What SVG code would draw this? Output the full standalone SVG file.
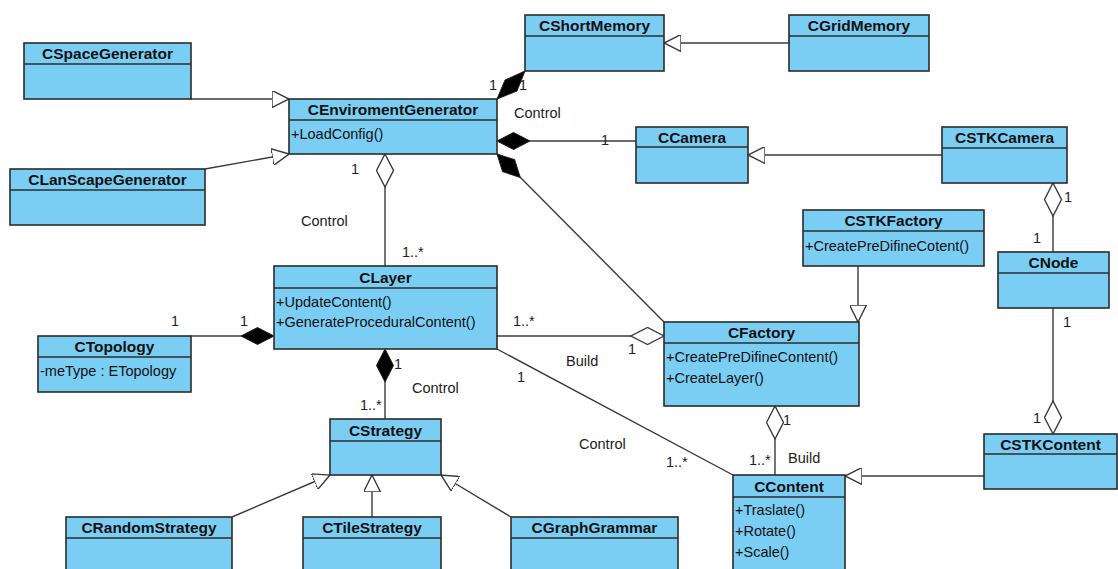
<svg xmlns="http://www.w3.org/2000/svg" width="1118" height="569" viewBox="0 0 1118 569">
  <style>
    .box { fill: #7bcef3; stroke: #2b2b2b; stroke-width: 1.6; }
    .div { stroke: #2b2b2b; stroke-width: 1.6; }
    .title { font-family: "Liberation Sans", Arial, sans-serif; font-weight: bold; font-size: 15.5px; fill: #111; text-anchor: middle; }
    .op { font-family: "Liberation Sans", Arial, sans-serif; font-size: 14.5px; fill: #111; }
    .lbl { font-family: "Liberation Sans", Arial, sans-serif; font-size: 14.5px; fill: #222; }
    .edge { fill: none; stroke: #3a3a3a; stroke-width: 1.4; }
    .gen { marker-end: url(#tri); }
    .comp { marker-start: url(#dfill); }
    .aggr { marker-start: url(#dhollow); }
  </style>
  <defs>
    <!-- hollow triangle for generalization -->
    <marker id="tri" viewBox="0 0 17 17" refX="17" refY="8.5" markerWidth="17" markerHeight="17" markerUnits="userSpaceOnUse" orient="auto">
      <path d="M0,0 L17,8.5 L0,17 Z" fill="#fff" stroke="#3a3a3a" stroke-width="1.4"/>
    </marker>
    <!-- filled diamond for composition -->
    <marker id="dfill" viewBox="-1 -1 35 19" refX="0" refY="8.5" markerWidth="35" markerHeight="19" markerUnits="userSpaceOnUse" orient="auto">
      <path d="M0,8.5 L16.5,0 L33,8.5 L16.5,17 Z" fill="#000" stroke="#222" stroke-width="1"/>
    </marker>
    <!-- hollow diamond for aggregation -->
    <marker id="dhollow" viewBox="-1 -1 35 19" refX="0" refY="8.5" markerWidth="35" markerHeight="19" markerUnits="userSpaceOnUse" orient="auto">
      <path d="M0,8.5 L16.5,0 L33,8.5 L16.5,17 Z" fill="#fff" stroke="#3a3a3a" stroke-width="1.4"/>
    </marker>
  </defs>

  <rect width="1118" height="569" fill="#fff"/>

  <g id="connectors">
    <!-- generalizations -->
    <path class="edge gen" d="M191,99 L289,99"/>
    <path class="edge gen" d="M205,169 L289,154"/>
    <path class="edge gen" d="M789,43 L664,43"/>
    <path class="edge gen" d="M942,155 L748,155"/>
    <path class="edge gen" d="M858,266 L858,322"/>
    <path class="edge gen" d="M984,476 L845,476"/>
    <path class="edge gen" d="M232,517 L330,475"/>
    <path class="edge gen" d="M372,517 L372,475"/>
    <path class="edge gen" d="M511,517 L441,475"/>
    <!-- compositions -->
    <path class="edge" d="M497,99 L525,71"/>
    <polygon points="497,99 505,80 525,71 517,91" fill="#000" stroke="#222" stroke-width="1"/>
    <path class="edge comp" d="M497,141 L636,141"/>
    <path class="edge comp" d="M497,154 L664,322"/>
    <path class="edge comp" d="M274,336 L191,336"/>
    <path class="edge comp" d="M385,349 L385,419"/>
    <!-- aggregations -->
    <path class="edge aggr" d="M385,154 L385,266"/>
    <path class="edge aggr" d="M664,336 L497,336"/>
    <path class="edge aggr" d="M1053,183 L1053,252"/>
    <path class="edge aggr" d="M775,406 L775,475"/>
    <path class="edge aggr" d="M1053,434 L1053,308"/>
    <!-- plain association -->
    <path class="edge" d="M497,349 L733,475"/>

    <!-- role names and multiplicities -->
    <text class="lbl" x="301" y="226">Control</text>
    <text class="lbl" x="351" y="174">1</text>
    <text class="lbl" x="402" y="257">1..*</text>
    <text class="lbl" x="489" y="90">1</text>
    <text class="lbl" x="519" y="90">1</text>
    <text class="lbl" x="514" y="118">Control</text>
    <text class="lbl" x="601" y="145">1</text>
    <text class="lbl" x="1064" y="202">1</text>
    <text class="lbl" x="1033" y="243">1</text>
    <text class="lbl" x="171" y="326">1</text>
    <text class="lbl" x="240" y="326">1</text>
    <text class="lbl" x="513" y="326">1..*</text>
    <text class="lbl" x="628" y="354">1</text>
    <text class="lbl" x="566" y="366">Build</text>
    <text class="lbl" x="517" y="382">1</text>
    <text class="lbl" x="394" y="369">1</text>
    <text class="lbl" x="412" y="393">Control</text>
    <text class="lbl" x="360" y="410">1..*</text>
    <text class="lbl" x="579" y="449">Control</text>
    <text class="lbl" x="666" y="467">1..*</text>
    <text class="lbl" x="783" y="425">1</text>
    <text class="lbl" x="749" y="465">1..*</text>
    <text class="lbl" x="788" y="463">Build</text>
    <text class="lbl" x="1063" y="327">1</text>
    <text class="lbl" x="1033" y="423">1</text>
  </g>

  <g id="CSpaceGenerator">
    <rect class="box" x="24" y="43" width="167" height="56"/>
    <line class="div" x1="24" y1="64" x2="191" y2="64"/>
    <text class="title" x="107.5" y="59">CSpaceGenerator</text>
  </g>

  <g id="CLanScapeGenerator">
    <rect class="box" x="10" y="169" width="195" height="56"/>
    <line class="div" x1="10" y1="190" x2="205" y2="190"/>
    <text class="title" x="107.5" y="185">CLanScapeGenerator</text>
  </g>

  <g id="CEnviromentGenerator">
    <rect class="box" x="289" y="99" width="208" height="55"/>
    <line class="div" x1="289" y1="120" x2="497" y2="120"/>
    <text class="title" x="393" y="115">CEnviromentGenerator</text>
    <text class="op" x="291" y="139">+LoadConfig()</text>
  </g>

  <g id="CShortMemory">
    <rect class="box" x="525" y="15" width="139" height="56"/>
    <line class="div" x1="525" y1="36" x2="664" y2="36"/>
    <text class="title" x="594.5" y="31">CShortMemory</text>
  </g>

  <g id="CGridMemory">
    <rect class="box" x="789" y="15" width="140" height="56"/>
    <line class="div" x1="789" y1="36" x2="929" y2="36"/>
    <text class="title" x="859" y="31">CGridMemory</text>
  </g>

  <g id="CCamera">
    <rect class="box" x="636" y="127" width="112" height="56"/>
    <line class="div" x1="636" y1="147" x2="748" y2="147"/>
    <text class="title" x="692" y="143">CCamera</text>
  </g>

  <g id="CSTKCamera">
    <rect class="box" x="942" y="127" width="125" height="56"/>
    <line class="div" x1="942" y1="148" x2="1067" y2="148"/>
    <text class="title" x="1004.5" y="143">CSTKCamera</text>
  </g>

  <g id="CSTKFactory">
    <rect class="box" x="803" y="210" width="181" height="56"/>
    <line class="div" x1="803" y1="231" x2="984" y2="231"/>
    <text class="title" x="893.5" y="226">CSTKFactory</text>
    <text class="op" x="805" y="251">+CreatePreDifineCotent()</text>
  </g>

  <g id="CNode">
    <rect class="box" x="998" y="252" width="111" height="56"/>
    <line class="div" x1="998" y1="273" x2="1109" y2="273"/>
    <text class="title" x="1053.5" y="268">CNode</text>
  </g>

  <g id="CLayer">
    <rect class="box" x="274" y="266" width="223" height="83"/>
    <line class="div" x1="274" y1="288" x2="497" y2="288"/>
    <text class="title" x="385.5" y="283">CLayer</text>
    <text class="op" x="276" y="307">+UpdateContent()</text>
    <text class="op" x="276" y="327">+GenerateProceduralContent()</text>
  </g>

  <g id="CTopology">
    <rect class="box" x="38" y="336" width="153" height="56"/>
    <line class="div" x1="38" y1="357" x2="191" y2="357"/>
    <text class="title" x="114.5" y="352">CTopology</text>
    <text class="op" x="40" y="376">-meType : ETopology</text>
  </g>

  <g id="CFactory">
    <rect class="box" x="664" y="322" width="195" height="84"/>
    <line class="div" x1="664" y1="343" x2="859" y2="343"/>
    <text class="title" x="761.5" y="338">CFactory</text>
    <text class="op" x="666" y="362">+CreatePreDifineContent()</text>
    <text class="op" x="666" y="383">+CreateLayer()</text>
  </g>

  <g id="CStrategy">
    <rect class="box" x="330" y="419" width="111" height="56"/>
    <line class="div" x1="330" y1="441" x2="441" y2="441"/>
    <text class="title" x="385.5" y="436">CStrategy</text>
  </g>

  <g id="CContent">
    <rect class="box" x="733" y="475" width="112" height="100"/>
    <line class="div" x1="733" y1="497" x2="845" y2="497"/>
    <text class="title" x="789" y="492">CContent</text>
    <text class="op" x="735" y="515">+Traslate()</text>
    <text class="op" x="735" y="536">+Rotate()</text>
    <text class="op" x="735" y="557">+Scale()</text>
  </g>

  <g id="CSTKContent">
    <rect class="box" x="984" y="434" width="133" height="55"/>
    <line class="div" x1="984" y1="454" x2="1117" y2="454"/>
    <text class="title" x="1050.5" y="450">CSTKContent</text>
  </g>

  <g id="CRandomStrategy">
    <rect class="box" x="66" y="517" width="166" height="60"/>
    <line class="div" x1="66" y1="538" x2="232" y2="538"/>
    <text class="title" x="149" y="533">CRandomStrategy</text>
  </g>

  <g id="CTileStrategy">
    <rect class="box" x="303" y="517" width="138" height="60"/>
    <line class="div" x1="303" y1="538" x2="441" y2="538"/>
    <text class="title" x="372" y="533">CTileStrategy</text>
  </g>

  <g id="CGraphGrammar">
    <rect class="box" x="511" y="517" width="167" height="60"/>
    <line class="div" x1="511" y1="538" x2="678" y2="538"/>
    <text class="title" x="594.5" y="533">CGraphGrammar</text>
  </g>
</svg>
